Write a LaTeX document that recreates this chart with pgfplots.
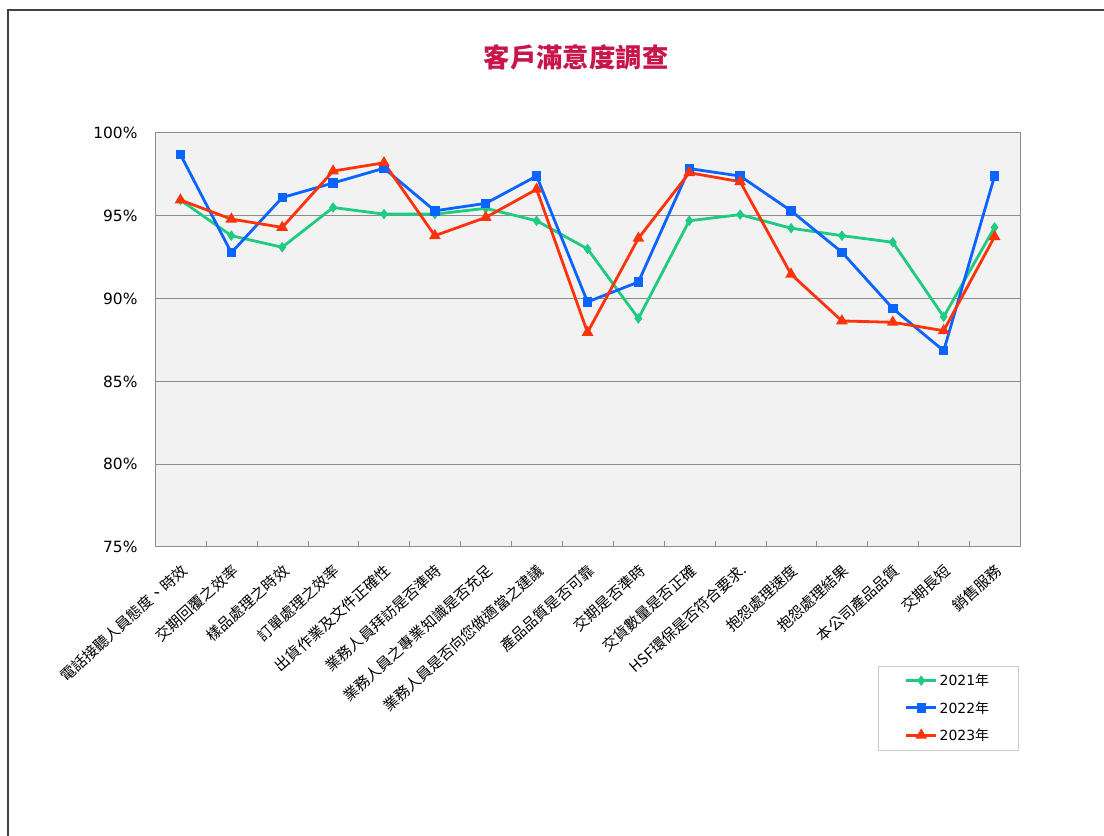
\documentclass[border=0pt]{standalone}
\usepackage{pgfplots}
\pgfplotsset{compat=1.18}
\usepackage{fontspec}
\setmainfont{Noto Sans CJK TC}
\newfontfamily\dejavu{DejaVu Sans}
\definecolor{cgreen}{HTML}{1FCB80}
\definecolor{cblue}{HTML}{0A64FF}
\definecolor{cred}{HTML}{FF330A}
\definecolor{ctitle}{HTML}{C8164B}
\definecolor{cbg}{HTML}{F2F2F2}
\definecolor{cgrid}{HTML}{8C8C8C}
\begin{document}
\begin{tikzpicture}[x=1bp,y=1bp]
\path[use as bounding box] (0,0) rectangle (1104,836);
\draw[line width=1.2bp, color=black!75] (8,0) -- (8,826) -- (1104,826);
\node[font=\fontsize{26.5}{30}\selectfont\bfseries, text=ctitle] at (576,779) {客戶滿意度調查};
\begin{axis}[
  at={(155bp,289bp)}, anchor=south west,
  width=865bp, height=414bp, scale only axis,
  xmin=-0.5, xmax=16.5, ymin=75, ymax=100,
  axis background/.style={fill=cbg},
  axis line style={draw=cgrid, line width=1bp},
  ytick={75,80,85,90,95,100},
  yticklabel={\pgfmathprintnumber{\tick}\%},
  /pgf/number format/assume math mode=true,
  yticklabel style={font=\fontsize{15.5}{18}\selectfont\dejavu, xshift=-14bp},
  ymajorgrids,
  grid style={draw=cgrid, line width=1bp},
  ytick style={draw=none},
  xtick={0,...,16},
  major x tick style={draw=none},
  minor xtick={-0.5,0.5,...,16.5},
  minor x tick style={draw=cgrid},
  minor tick length=6bp,
  xtick pos=bottom,
  xticklabels={電話接聽人員態度、時效,交期回覆之效率,樣品處理之時效,訂單處理之效率,出貨作業及文件正確性,業務人員拜訪是否準時,業務人員之專業知識是否充足,業務人員是否向您做適當之建議,產品品質是否可靠,交期是否準時,交貨數量是否正確,HSF環保是否符合要求.,抱怨處理速度,抱怨處理結果,本公司產品品質,交期長短,銷售服務},
  xticklabel style={font=\fontsize{15}{18}\selectfont, xshift=5bp, yshift=-20bp, rotate=42, anchor=east, inner sep=1bp},
  legend cell align=left,
  legend style={at={(0.998,-0.287)}, anchor=north east, draw=gray!40,
    font=\fontsize{14}{16}\selectfont, inner xsep=27bp, inner ysep=6bp, row sep=10bp},
  legend image code/.code={\draw[mark repeat=2,mark phase=2] plot coordinates {(0bp,0bp) (15bp,0bp) (30bp,0bp)};},
]
\addplot[cgreen, line width=2.8bp, mark=diamond*, mark size=3bp, mark options={solid}] coordinates {
(0,95.95) (1,93.8) (2,93.1) (3,95.5) (4,95.1) (5,95.1) (6,95.45) (7,94.7) (8,93.0) (9,88.8) (10,94.7) (11,95.07) (12,94.25) (13,93.8) (14,93.4) (15,88.9) (16,94.3)};
\addlegendentry{{\dejavu 2021}年}
\addplot[cblue, line width=2.8bp, mark=square*, mark size=3.3bp, mark options={solid}] coordinates {
(0,98.7) (1,92.77) (2,96.1) (3,96.98) (4,97.87) (5,95.3) (6,95.75) (7,97.4) (8,89.8) (9,91.0) (10,97.85) (11,97.4) (12,95.3) (13,92.8) (14,89.4) (15,86.85) (16,97.4)};
\addlegendentry{{\dejavu 2022}年}
\addplot[cred, line width=2.8bp, mark=triangle*, mark size=4bp, mark options={solid}] coordinates {
(0,95.95) (1,94.8) (2,94.3) (3,97.7) (4,98.2) (5,93.8) (6,94.9) (7,96.6) (8,87.96) (9,93.64) (10,97.6) (11,97.06) (12,91.47) (13,88.65) (14,88.57) (15,88.06) (16,93.74)};
\addlegendentry{{\dejavu 2023}年}
\end{axis}
\end{tikzpicture}
\end{document}
